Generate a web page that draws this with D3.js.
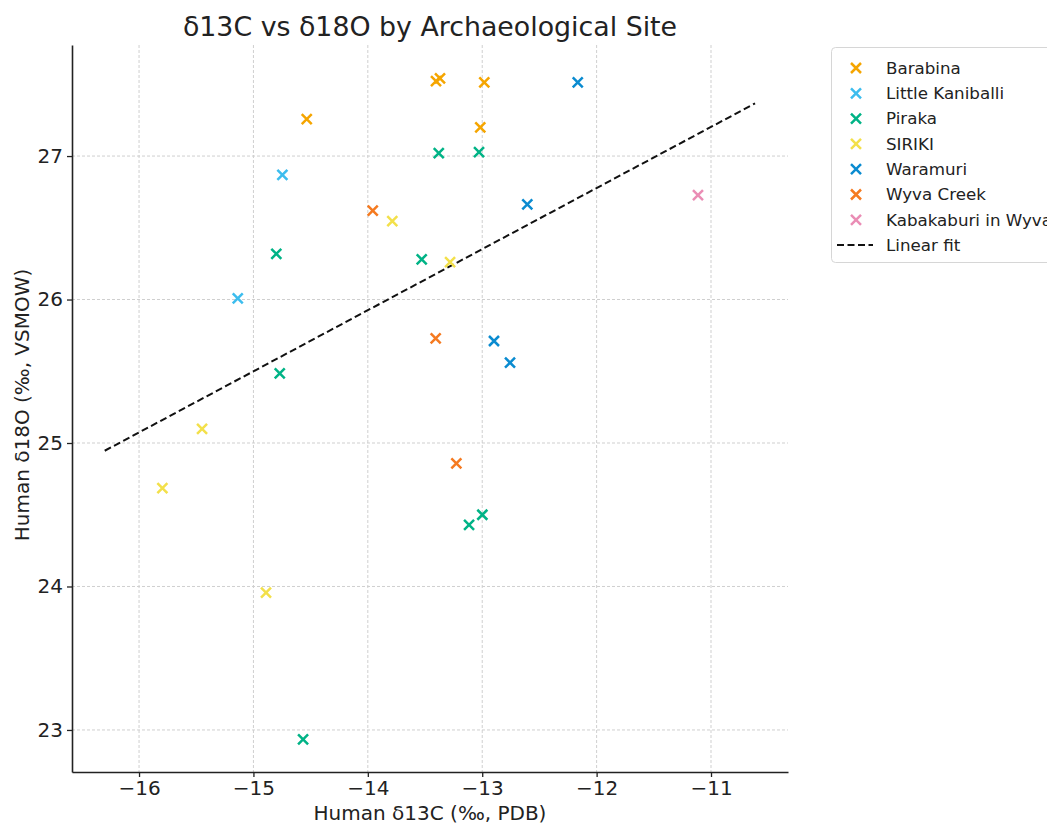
<!DOCTYPE html>
<html>
<head>
<meta charset="utf-8">
<script src="https://cdn.jsdelivr.net/npm/d3@7"></script>
<style>
  body { margin: 0; background: #fff; }
  svg { font-family: "DejaVu Sans", sans-serif; }
</style>
</head>
<body>
<svg id="chart"></svg>
<script>
const width = 1047;
const height = 824;

// data
const sites = ["Barabina", "Little Kaniballi", "Piraka", "SIRIKI", "Waramuri", "Wyva Creek", "Kabakaburi in Wyva Creek"];
const colors = ["#f5a500", "#3dbdee", "#00b386", "#f3e04a", "#0a8bd0", "#f57a20", "#ea8db5"];

const barabinaX = [-14.534, -13.404, -13.369, -12.982, -13.017];
const barabinaY = [27.258, 27.523, 27.541, 27.513, 27.20];
const kaniballiX = [-14.747, -15.137];
const kaniballiY = [26.868, 26.008];
const pirakaX = [-14.80, -13.380, -13.028, -13.529, -14.770, -14.566, -13.115, -12.999];
const pirakaY = [26.319, 27.021, 27.028, 26.280, 25.486, 22.935, 24.429, 24.500];
const sirikiX = [-13.786, -13.281, -15.449, -15.796, -14.890];
const sirikiY = [26.547, 26.261, 25.098, 24.686, 23.957];
const waramuriX = [-12.165, -12.606, -12.897, -12.757];
const waramuriY = [27.513, 26.663, 25.711, 25.560];
const wyvaX = [-13.957, -13.407, -13.226];
const wyvaY = [26.619, 25.730, 24.858];
const kabakaburiX = [-11.114];
const kabakaburiY = [26.728];

const fitX = [-16.3, -10.615];
const fitY = [24.946, 27.367];

const xTicks = [-16, -15, -14, -13, -12, -11];
const yTicks = [23, 24, 25, 26, 27];

const seriesX = [barabinaX, kaniballiX, pirakaX, sirikiX, waramuriX, wyvaX, kabakaburiX];
const seriesY = [barabinaY, kaniballiY, pirakaY, sirikiY, waramuriY, wyvaY, kabakaburiY];

const points = [];
sites.forEach((s, i) => {
  seriesX[i].forEach((x, j) => points.push({ site: s, color: colors[i], x: x, y: seriesY[i][j] }));
});

const svg = d3.select("#chart")
  .attr("width", width)
  .attr("height", height);

const xScale = d3.scaleLinear()
  .domain([-16.586, -10.327])
  .range([72, 788]);

const yScale = d3.scaleLinear()
  .domain([22.707, 27.774])
  .range([772, 45]);

// grid
svg.append("g")
  .selectAll("line")
  .data(xTicks)
  .enter()
  .append("line")
  .attr("x1", d => xScale(d))
  .attr("x2", d => xScale(d))
  .attr("y1", 45)
  .attr("y2", 772)
  .attr("stroke", "#cfcfcf")
  .attr("stroke-width", 1)
  .attr("stroke-dasharray", "3,2");

svg.append("g")
  .selectAll("line")
  .data(yTicks)
  .enter()
  .append("line")
  .attr("x1", 72)
  .attr("x2", 788)
  .attr("y1", d => yScale(d))
  .attr("y2", d => yScale(d))
  .attr("stroke", "#cfcfcf")
  .attr("stroke-width", 1)
  .attr("stroke-dasharray", "3,2");

// axes
const xAxis = d3.axisBottom(xScale)
  .tickValues(xTicks)
  .tickSize(5)
  .tickSizeOuter(0)
  .tickFormat(d => "\u2212" + Math.abs(d));

const yAxis = d3.axisLeft(yScale)
  .tickValues(yTicks)
  .tickSize(5)
  .tickSizeOuter(0)
  .tickFormat(d3.format("d"));

const gx = svg.append("g")
  .attr("transform", "translate(0, 772)")
  .call(xAxis);
gx.select(".domain").attr("stroke", "#222").attr("stroke-width", 1.6);
gx.selectAll(".tick line").attr("stroke", "#222").attr("stroke-width", 1.3);
gx.selectAll(".tick text")
  .attr("y", 9)
  .attr("fill", "#222")
  .style("font-family", "DejaVu Sans")
  .style("font-size", "20px");

const gy = svg.append("g")
  .attr("transform", "translate(72, 0)")
  .call(yAxis);
gy.select(".domain").attr("stroke", "#222").attr("stroke-width", 1.6);
gy.selectAll(".tick line").attr("stroke", "#222").attr("stroke-width", 1.3);
gy.selectAll(".tick text")
  .attr("x", -9)
  .attr("fill", "#222")
  .style("font-family", "DejaVu Sans")
  .style("font-size", "20px");

// fit line
svg.append("line")
  .attr("x1", xScale(fitX[0]))
  .attr("y1", yScale(fitY[0]))
  .attr("x2", xScale(fitX[1]))
  .attr("y2", yScale(fitY[1]))
  .attr("stroke", "#111")
  .attr("stroke-width", 2)
  .attr("stroke-dasharray", "7,3.5");

// markers
const m = 5;
svg.append("g")
  .selectAll("path")
  .data(points)
  .enter()
  .append("path")
  .attr("d", d => {
    const cx = xScale(d.x), cy = yScale(d.y);
    return `M${cx - m},${cy - m}L${cx + m},${cy + m}M${cx - m},${cy + m}L${cx + m},${cy - m}`;
  })
  .attr("stroke", d => d.color)
  .attr("stroke-width", 2.5)
  .attr("fill", "none");

// labels
svg.append("text")
  .attr("x", 430)
  .attr("y", 36)
  .attr("text-anchor", "middle")
  .attr("fill", "#222")
  .style("font-size", "26.8px")
  .text("δ13C vs δ18O by Archaeological Site");

svg.append("text")
  .attr("x", 430)
  .attr("y", 820)
  .attr("text-anchor", "middle")
  .attr("fill", "#222")
  .style("font-size", "20px")
  .text("Human δ13C (‰, PDB)");

svg.append("text")
  .attr("transform", "translate(29, 405) rotate(-90)")
  .attr("text-anchor", "middle")
  .attr("fill", "#222")
  .style("font-size", "20px")
  .text("Human δ18O (‰, VSMOW)");

// legend
const legend = svg.append("g").attr("transform", "translate(831, 47)");
legend.append("rect")
  .attr("x", 0.5)
  .attr("y", 0.5)
  .attr("width", 260)
  .attr("height", 215)
  .attr("rx", 4)
  .attr("fill", "#fff")
  .attr("stroke", "#d6d6d6");

const rowH = 25.3;
sites.forEach((s, i) => {
  const cy = 21 + i * rowH;
  legend.append("path")
    .attr("d", `M${25 - m},${cy - m}L${25 + m},${cy + m}M${25 - m},${cy + m}L${25 + m},${cy - m}`)
    .attr("stroke", colors[i])
    .attr("stroke-width", 2.5);
  legend.append("text")
    .attr("x", 55)
    .attr("y", cy)
    .attr("dy", "0.35em")
    .attr("fill", "#222")
    .style("font-size", "16.7px")
    .text(s);
});
const fy = 21 + 7 * rowH;
legend.append("line")
  .attr("x1", 6)
  .attr("x2", 42)
  .attr("y1", fy)
  .attr("y2", fy)
  .attr("stroke", "#111")
  .attr("stroke-width", 2)
  .attr("stroke-dasharray", "7,3.5");
legend.append("text")
  .attr("x", 55)
  .attr("y", fy)
  .attr("dy", "0.35em")
  .attr("fill", "#222")
  .style("font-size", "16.7px")
  .text("Linear fit");
</script>
</body>
</html>
